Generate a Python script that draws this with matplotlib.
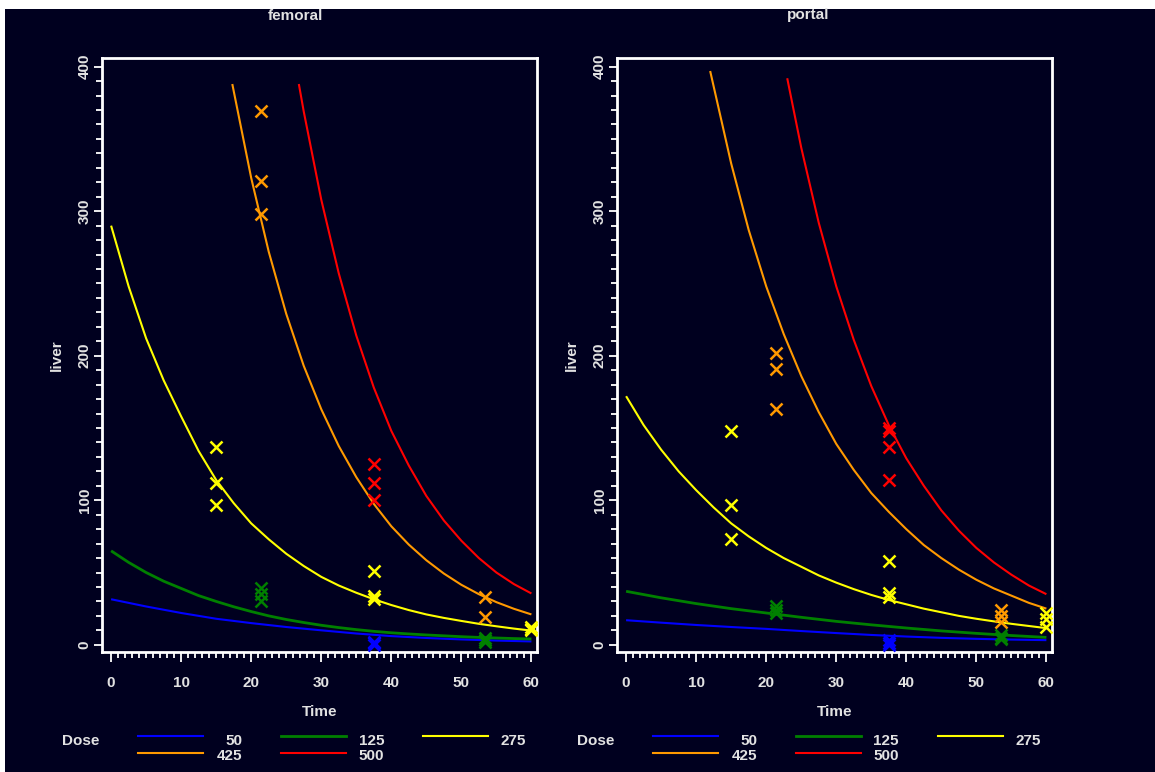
import matplotlib
matplotlib.use("Agg")
import matplotlib.pyplot as plt
from matplotlib.lines import Line2D
from matplotlib.patches import Rectangle
from matplotlib.ticker import FixedLocator

plt.rcParams['font.family'] = ['Liberation Sans', 'DejaVu Sans']

# ---------------- data ----------------
doses = ["50", "125", "275", "425", "500"]
colors = ["#0000ff", "#008000", "#ffff00", "#ff9900", "#ff0000"]
panels = ["femoral", "portal"]

t_5 = [0, 5, 10, 15, 20, 25, 30, 35, 40, 45, 50, 55, 60]
t_25 = [0, 2.5, 5, 7.5, 10, 12.5, 15, 17.5, 20, 22.5, 25, 27.5, 30, 32.5, 35, 37.5,
        40, 42.5, 45, 47.5, 50, 52.5, 55, 57.5, 60]

# femoral fitted curves
fem_t_50 = t_5
fem_y_50 = [31.5, 26.5, 22, 18, 15, 12.3, 10, 7.8, 6.0, 4.7, 3.7, 2.9, 2.3]
fem_t_125 = t_25
fem_y_125 = [65, 57, 50, 44, 39, 34, 30, 26.3, 23, 20, 17.5, 15.4, 13.5, 11.9, 10.5, 9.3,
             8.3, 7.5, 6.8, 6.2, 5.6, 5.1, 4.7, 4.3, 4.0]
fem_t_275 = t_25
fem_y_275 = [290, 248, 212, 183, 158, 134, 114, 98, 84, 73, 63, 54.5, 47, 41, 36, 31.5,
             27.5, 24, 21, 18.6, 16.5, 14.5, 12.8, 11.2, 9.8]
fem_t_425 = [17.3, 20, 22.5, 25, 27.5, 30, 32.5, 35, 37.5, 40, 42.5, 45, 47.5, 50, 52.5,
             55, 57.5, 60]
fem_y_425 = [388, 323, 272, 229, 193, 163, 137.5, 116, 97.5, 82, 69.3, 58.5, 49.3, 41.5,
             35, 29.5, 24.9, 21]
fem_t_500 = [26.8, 27.5, 30, 32.5, 35, 37.5, 40, 42.5, 45, 47.5, 50, 52.5, 55, 57.5, 60]
fem_y_500 = [388, 369, 308, 257, 214, 178, 148, 124, 103, 86, 72, 60, 50, 42, 35.5]

# portal fitted curves
por_t_50 = t_5
por_y_50 = [17, 15.3, 13.7, 12.3, 11, 9.5, 8.1, 6.8, 5.7, 4.8, 4.1, 3.6, 3.2]
por_t_125 = t_5
por_y_125 = [37, 32.5, 28.5, 25, 22, 19, 16.2, 13.8, 11.6, 9.6, 7.9, 6.4, 5.1]
por_t_275 = t_25
por_y_275 = [172, 152, 135, 120, 107, 95, 84, 75, 67, 60, 54, 48, 43, 38.5, 34.5, 31,
             28, 25, 22.5, 20, 18, 16.2, 14.5, 13, 11.5]
por_t_425 = [12, 15, 17.5, 20, 22.5, 25, 27.5, 30, 32.5, 35, 37.5, 40, 42.5, 45, 47.5,
             50, 52.5, 55, 57.5, 60]
por_y_425 = [397, 333, 287, 248, 215, 186, 161, 139, 121, 105, 92, 80, 69, 60, 52, 45,
             39, 34, 29, 25]
por_t_500 = [23, 25, 27.5, 30, 32.5, 35, 37.5, 40, 42.5, 45, 47.5, 50, 52.5, 55, 57.5, 60]
por_y_500 = [392, 344, 292, 248, 211, 179, 152, 129, 110, 93, 79, 67, 57, 48.5, 41, 35]

# femoral observations
fem_obs_t_50 = [37.5, 37.5, 37.5]
fem_obs_y_50 = [2, 1, 0]
fem_obs_t_125 = [21.4, 21.4, 21.4, 53.4, 53.4, 53.4]
fem_obs_y_125 = [39, 35, 30, 5, 3, 2]
fem_obs_t_275 = [15, 15, 15, 37.5, 37.5, 37.5, 60, 60, 60]
fem_obs_y_275 = [137, 112, 97, 51, 34, 32, 12, 11, 10]
fem_obs_t_425 = [21.4, 21.4, 21.4, 53.4, 53.4]
fem_obs_y_425 = [369, 321, 298, 33, 19]
fem_obs_t_500 = [37.5, 37.5, 37.5]
fem_obs_y_500 = [125, 112, 100]

# portal observations
por_obs_t_50 = [37.5, 37.5, 37.5]
por_obs_y_50 = [3, 1, 0]
por_obs_t_125 = [21.4, 21.4, 21.4, 53.5, 53.5, 53.5]
por_obs_y_125 = [27, 24, 22, 7, 5, 4]
por_obs_t_275 = [15, 15, 15, 37.5, 37.5, 37.5, 60, 60, 60]
por_obs_y_275 = [148, 97, 73, 58, 36, 33, 22, 18, 12]
por_obs_t_425 = [21.4, 21.4, 21.4, 53.5, 53.5, 53.5]
por_obs_y_425 = [202, 191, 163, 24, 20, 16]
por_obs_t_500 = [37.5, 37.5, 37.5, 37.5]
por_obs_y_500 = [150, 148, 137, 114]

x_ticks = [0, 10, 20, 30, 40, 50, 60]
y_ticks = [0, 100, 200, 300, 400]

curves = {
    "femoral": [(fem_t_50, fem_y_50), (fem_t_125, fem_y_125), (fem_t_275, fem_y_275),
                (fem_t_425, fem_y_425), (fem_t_500, fem_y_500)],
    "portal": [(por_t_50, por_y_50), (por_t_125, por_y_125), (por_t_275, por_y_275),
               (por_t_425, por_y_425), (por_t_500, por_y_500)],
}
obs = {
    "femoral": [(fem_obs_t_50, fem_obs_y_50), (fem_obs_t_125, fem_obs_y_125),
                (fem_obs_t_275, fem_obs_y_275), (fem_obs_t_425, fem_obs_y_425),
                (fem_obs_t_500, fem_obs_y_500)],
    "portal": [(por_obs_t_50, por_obs_y_50), (por_obs_t_125, por_obs_y_125),
               (por_obs_t_275, por_obs_y_275), (por_obs_t_425, por_obs_y_425),
               (por_obs_t_500, por_obs_y_500)],
}

# ---------------- figure ----------------
W, H = 1155, 772
NAVY = "#00001f"
TXT = "#e2e2e2"
FS = 11

fig = plt.figure(figsize=(W / 100, H / 100), dpi=100)
fig.patch.set_facecolor("white")
fig.add_artist(Rectangle((5 / W, 0), 1 - 5 / W, (H - 9) / H, transform=fig.transFigure,
                         facecolor=NAVY, edgecolor="none", zorder=-10))


def fx(px):
    return px / W


def fy(py):
    return 1 - py / H


lws = [1.5, 2.0, 1.5, 1.5, 1.5]
offsets = [0, 515]
for pi, name in enumerate(panels):
    off = offsets[pi]
    left, right, top, bottom = 102 + off, 537 + off, 58, 652
    ax = fig.add_axes([fx(left), fy(bottom), (right - left) / W, (bottom - top) / H])
    ax.set_facecolor(NAVY)
    for (t, y), c, lw in zip(curves[name], colors, lws):
        ax.plot(t, y, color=c, lw=lw, solid_capstyle="butt", solid_joinstyle="round",
                zorder=2)
    for (t, y), c in zip(obs[name], colors):
        ax.plot(t, y, linestyle="none", marker="x", markersize=8, mew=1.8,
                color=c, zorder=3)
    ax.set_xlim(-1.3, 60.8)
    ax.set_ylim(-5, 406)
    for s in ax.spines.values():
        s.set_color("white")
        s.set_linewidth(2)
    ax.xaxis.set_major_locator(FixedLocator(x_ticks))
    ax.xaxis.set_minor_locator(FixedLocator([v for v in range(0, 61) if v % 10]))
    ax.yaxis.set_major_locator(FixedLocator(y_ticks))
    ax.yaxis.set_minor_locator(FixedLocator([v for v in range(0, 401, 10) if v % 100]))
    ax.tick_params(axis="x", which="major", direction="out", length=7, width=1.3,
                   color="white", pad=10, labelsize=FS, labelcolor=TXT)
    ax.tick_params(axis="x", which="minor", direction="out", length=4, width=1.3,
                   color="white")
    ax.tick_params(axis="y", which="major", direction="out", length=6, width=1.3,
                   color="white", pad=1.5, labelsize=FS, labelcolor=TXT)
    ax.tick_params(axis="y", which="minor", direction="out", length=4.5, width=1.3,
                   color="white")
    ax.set_xticklabels([str(v) for v in x_ticks], fontweight="bold")
    ax.set_yticklabels([str(v) for v in y_ticks], fontweight="bold",
                       rotation=90, va="center")

    # titles and axis labels
    fig.text(fx(295 + off - (2 if pi else 0)), fy(15.5), name, ha="center", va="center",
             color=TXT, fontsize=FS, fontweight="bold")
    fig.text(fx(57 + off), fy(355), "liver", ha="center", va="center", rotation=90,
             color=TXT, fontsize=FS, fontweight="bold")
    fig.text(fx(320 + off), fy(712), "Time", ha="center", va="center",
             color=TXT, fontsize=FS, fontweight="bold")

    # legend
    fig.text(fx(62 + off), fy(741), "Dose", ha="left", va="center",
             color=TXT, fontsize=FS, fontweight="bold")
    for i, (d, c, lw) in enumerate(zip(doses, colors, lws)):
        col, row = i % 3, i // 3
        x0 = 138 + col * 142.5 + off
        ly = 736 + row * 17
        ty = 741 + row * 15
        fig.add_artist(Line2D([fx(x0), fx(x0 + 65)], [fy(ly), fy(ly)],
                              transform=fig.transFigure, color=c, lw=lw))
        fig.text(fx(242 + col * 142 + off), fy(ty), d, ha="right", va="center",
                 color=TXT, fontsize=FS, fontweight="bold")

fig.savefig("out.png", dpi=100, facecolor=fig.get_facecolor())
